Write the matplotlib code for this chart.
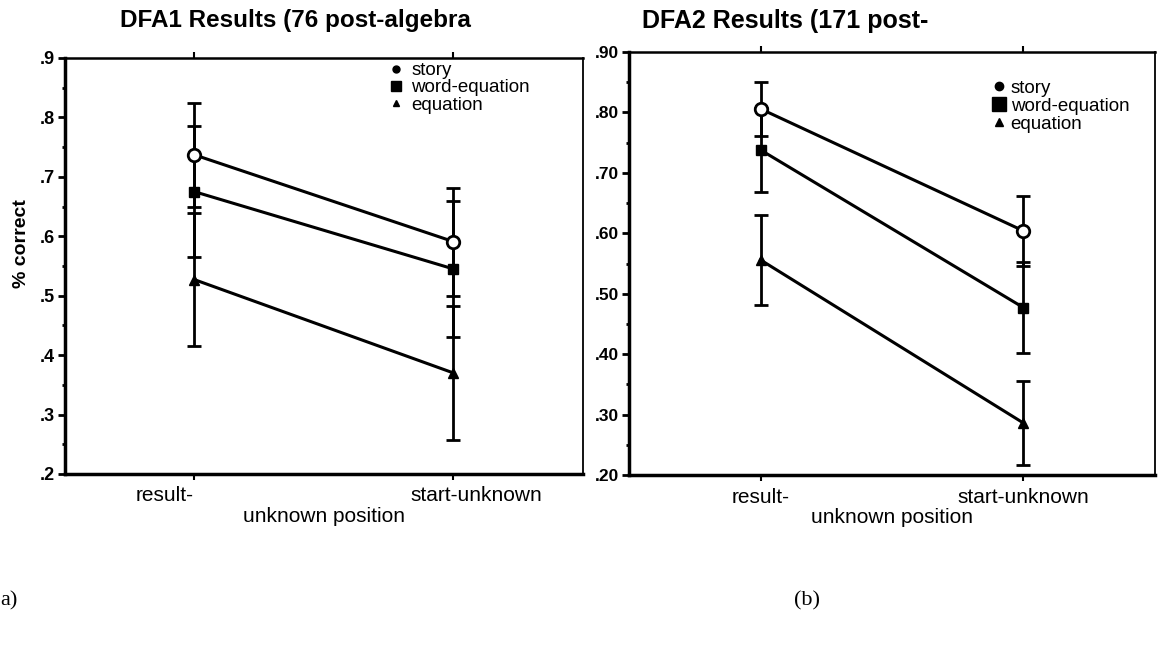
import matplotlib
matplotlib.use("Agg")
import matplotlib.pyplot as plt
from matplotlib.lines import Line2D
from matplotlib.transforms import ScaledTranslation
from matplotlib.ticker import MultipleLocator

plt.rcParams['font.family'] = ['Liberation Sans', 'DejaVu Sans']

# ---- data ----
positions = ["result-", "start-unknown"]
series_names = ["story", "word-equation", "equation"]

dfa1_story = [0.737, 0.591]
dfa1_story_err = [0.087, 0.091]
dfa1_word = [0.675, 0.545]
dfa1_word_err = [0.110, 0.115]
dfa1_eq = [0.527, 0.370]
dfa1_eq_err = [0.112, 0.113]

dfa2_story = [0.806, 0.604]
dfa2_story_err = [0.045, 0.058]
dfa2_word = [0.738, 0.477]
dfa2_word_err = [0.070, 0.075]
dfa2_eq = [0.556, 0.286]
dfa2_eq_err = [0.075, 0.069]

left_yticks = [.2, .3, .4, .5, .6, .7, .8, .9]
left_ylabels = [".2", ".3", ".4", ".5", ".6", ".7", ".8", ".9"]
right_ylabels = [".20", ".30", ".40", ".50", ".60", ".70", ".80", ".90"]

fig = plt.figure(figsize=(11.58, 6.47), dpi=100)
ax1 = fig.add_axes([0.0561, 0.2674, 0.4473, 0.643])
ax2 = fig.add_axes([0.5432, 0.2658, 0.4542, 0.6538])

markers = [dict(marker='o', ms=9, mfc='white', mec='black', mew=2),
           dict(marker='s', ms=7, mfc='black', mec='black'),
           dict(marker='^', ms=7, mfc='black', mec='black')]


def draw_panel(ax, vals, errs, ylabels, tick_fs):
    x = [0, 1]
    for v, e, m in zip(vals, errs, markers):
        ax.errorbar(x, v, yerr=e, fmt='none', ecolor='black', elinewidth=2,
                    capsize=5, capthick=2, zorder=2)
        ax.plot(x, v, color='black', lw=2.2, zorder=3, **m)
    ax.set_xlim(-0.5, 1.5)
    ax.set_ylim(0.2, 0.9)
    ax.set_yticks(left_yticks)
    ax.set_yticklabels(ylabels, fontsize=tick_fs, fontweight='bold')
    ax.yaxis.set_minor_locator(MultipleLocator(0.05))
    ax.set_xticks(x)
    ax.set_xticklabels(positions, fontsize=15)
    ax.tick_params(axis='y', which='major', direction='out', length=5, width=2, pad=2)
    ax.tick_params(axis='y', which='minor', direction='out', length=2.5, width=2)
    ax.tick_params(axis='x', direction='out', length=4, width=1.5, pad=5,
                   top=True)
    ax.spines['left'].set_linewidth(2.5)
    ax.spines['bottom'].set_linewidth(2.5)
    ax.spines['top'].set_linewidth(1.8)
    ax.spines['right'].set_linewidth(1.3)
    ax.set_xlabel("unknown position", fontsize=15, labelpad=1)


draw_panel(ax1, [dfa1_story, dfa1_word, dfa1_eq],
           [dfa1_story_err, dfa1_word_err, dfa1_eq_err], left_ylabels, 13)
draw_panel(ax2, [dfa2_story, dfa2_word, dfa2_eq],
           [dfa2_story_err, dfa2_word_err, dfa2_eq_err], right_ylabels, 12.5)

# left panel tick labels sit off-centre in the original
lbls = ax1.get_xticklabels()
lbls[0].set_transform(lbls[0].get_transform() + ScaledTranslation(-0.30, 0, fig.dpi_scale_trans))
lbls[1].set_transform(lbls[1].get_transform() + ScaledTranslation(0.23, 0, fig.dpi_scale_trans))

ax1.set_ylabel("% correct", fontsize=14, fontweight='bold', labelpad=4)
ax1.yaxis.set_label_coords(-0.068, 0.555)

fig.text(0.255, 0.968, "DFA1 Results (76 post-algebra", fontsize=17.5,
         fontweight='bold', ha='center', va='center')
fig.text(0.678, 0.968, "DFA2 Results (171 post-", fontsize=18,
         fontweight='bold', ha='center', va='center')

handles_left = [Line2D([], [], ls='none', marker='o', ms=5, color='black'),
                Line2D([], [], ls='none', marker='s', ms=7, color='black'),
                Line2D([], [], ls='none', marker='^', ms=5, color='black')]
handles_right = [Line2D([], [], ls='none', marker='o', ms=6, color='black'),
                 Line2D([], [], ls='none', marker='s', ms=10, color='black'),
                 Line2D([], [], ls='none', marker='^', ms=6, color='black')]

ax1.legend(handles_left, series_names, loc='upper left', bbox_to_anchor=(0.625, 0.99),
           frameon=False, fontsize=13.5, handlelength=0.8, handletextpad=0.4,
           labelspacing=0.0, borderpad=0, borderaxespad=0)
ax2.legend(handles_right, series_names, loc='upper left', bbox_to_anchor=(0.69, 0.935),
           frameon=False, fontsize=13.5, handlelength=0.8, handletextpad=0.2,
           labelspacing=0.05, borderpad=0, borderaxespad=0)

fig.text(0.0, 0.072, "a)", fontsize=16, family=['Liberation Serif', 'DejaVu Serif'],
         va='center')
fig.text(0.686, 0.072, "(b)", fontsize=16, family=['Liberation Serif', 'DejaVu Serif'],
         va='center')

fig.savefig("out.png", dpi=100)
